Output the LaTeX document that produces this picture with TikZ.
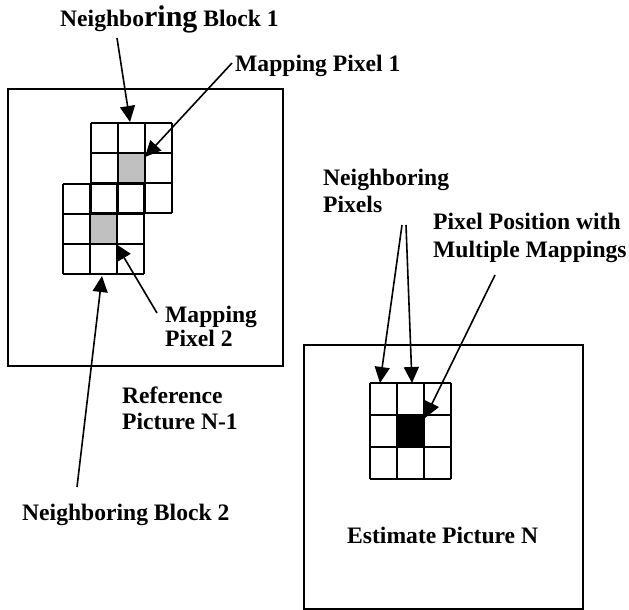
\documentclass[tikz,border=0pt]{standalone}
\usepackage{fontspec}
\setmainfont{Liberation Serif}
\usetikzlibrary{arrows.meta}
\definecolor{cellgray}{RGB}{192,192,192}
\begin{document}
\begin{tikzpicture}[x=1pt,y=-1pt,
  lbl/.style={font=\fontsize{23.6}{26}\selectfont\bfseries, inner sep=0pt, align=left},
  frame/.style={draw, line width=2.2pt, inner sep=0pt},
  cellline/.style={line width=1.8pt},
  ptr/.style={draw, line width=1.6pt, -{Triangle[length=16pt,width=15pt]}},
  ]
\useasboundingbox (0,0) rectangle (629,610);

% picture frames
\node[frame, anchor=north west, minimum width=275pt, minimum height=277pt] (refpic) at (7,88) {};
\node[frame, anchor=north west, minimum width=279pt, minimum height=264pt] (estpic) at (303,344) {};

% shaded / black cells
\fill[cellgray] (118,153) rectangle (145,183);
\fill[cellgray] (90,214) rectangle (117,244);
\fill[black] (397,415) rectangle (424,447);

% block 1 grid
\foreach \x in {91,118,145,172} \draw[cellline] (\x,123) -- (\x,213);
\foreach \y in {123,153,183,213} \draw[cellline] (91,\y) -- (172,\y);
% block 2 grid
\foreach \x in {63,90,117,144} \draw[cellline] (\x,184) -- (\x,274);
\foreach \y in {184,214,244,274} \draw[cellline] (63,\y) -- (144,\y);
% estimate grid
\foreach \x in {370,397,424,451} \draw[cellline] (\x,383) -- (\x,479);
\foreach \y in {383,415,447,479} \draw[cellline] (370,\y) -- (451,\y);

% labels
\node[lbl, anchor=base west] (nb1) at (60,27) {Neighbo{\fontsize{30}{30}\selectfont ring} Block 1};
\node[lbl, anchor=base west] (mp1) at (235,71) {Mapping Pixel 1};
\node[lbl, anchor=north west, font=\fontsize{23.6}{24}\selectfont\bfseries] (mp2) at (165,306) {Mapping\\Pixel 2};
\node[lbl, anchor=north west, font=\fontsize{23.6}{26}\selectfont\bfseries] (ref) at (122,387) {Reference\\Picture N-1};
\node[lbl, anchor=base west] (nb2) at (22,520) {Neighboring Block 2};
\node[lbl, anchor=north west, font=\fontsize{23.6}{27}\selectfont\bfseries] (np) at (323,169) {Neighboring\\Pixels};
\node[lbl, anchor=north west, font=\fontsize{23.6}{28}\selectfont\bfseries] (ppm) at (433,213) {Pixel Position with\\Multiple Mappings};
\node[lbl, anchor=base west] (est) at (347,543) {Estimate Picture N};

% connector end points
\coordinate (nb1s) at (117,38);   \coordinate (nb1t) at (130,122);
\coordinate (mp1s) at (232,63);   \coordinate (mp1t) at (145,157);
\coordinate (nb2s) at (77,487);   \coordinate (nb2t) at (102,276);
\coordinate (mp2s) at (157,313);  \coordinate (mp2t) at (116,244);
\coordinate (np1s) at (402,225);  \coordinate (np1t) at (380,383);
\coordinate (np2s) at (406,225);  \coordinate (np2t) at (412,383);
\coordinate (ppms) at (495,275);  \coordinate (ppmt) at (425,418);

\draw[ptr] (nb1s) -- (nb1t);
\draw[ptr] (mp1s) -- (mp1t);
\draw[ptr] (nb2s) -- (nb2t);
\draw[ptr] (mp2s) -- (mp2t);
\draw[ptr] (np1s) -- (np1t);
\draw[ptr] (np2s) -- (np2t);
\draw[ptr] (ppms) -- (ppmt);
\end{tikzpicture}
\end{document}
